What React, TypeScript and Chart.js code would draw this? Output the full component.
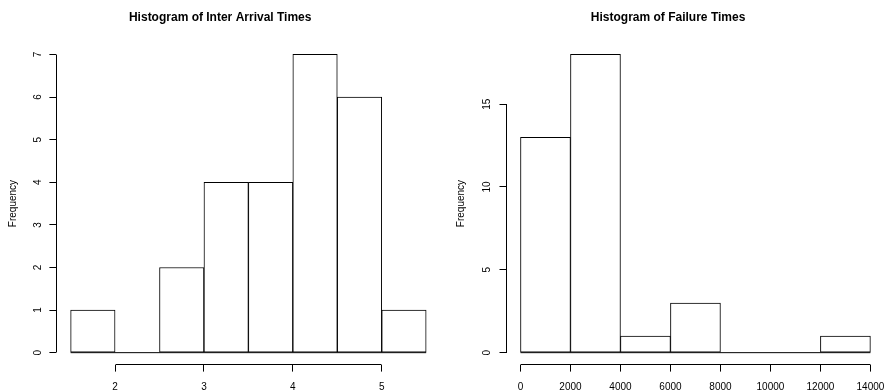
import React, { useEffect, useRef } from "react";
import { Chart, registerables } from "chart.js";

Chart.register(...registerables);

const FONT = "'Liberation Sans', Arial, Helvetica, sans-serif";

// Left histogram: Inter Arrival Times
const arrivalTitle = "Histogram of Inter Arrival Times";
const arrivalBinEdges = [1.5, 2, 2.5, 3, 3.5, 4, 4.5, 5, 5.5];
const arrivalCounts = [1, 0, 2, 4, 4, 7, 6, 1];
const arrivalXTicks = [2, 3, 4, 5];
const arrivalYTicks = [0, 1, 2, 3, 4, 5, 6, 7];

// Right histogram: Failure Times
const failureTitle = "Histogram of Failure Times";
const failureBinEdges = [0, 2000, 4000, 6000, 8000, 10000, 12000, 14000];
const failureCounts = [13, 18, 1, 3, 0, 0, 1];
const failureXTicks = [0, 2000, 4000, 6000, 8000, 10000, 12000, 14000];
const failureYTicks = [0, 5, 10, 15];

const yLabel = "Frequency";

const rAxisLines = {
  id: "rAxisLines",
  afterDraw(chart: any, _args: any, opts: any) {
    const { ctx, chartArea, scales } = chart;
    const xs = scales.x;
    const ys = scales.y;
    const al = (v: number) => Math.round(v - 0.5) + 0.5;
    ctx.save();
    ctx.strokeStyle = "#000";
    ctx.lineWidth = 1;
    ctx.beginPath();
    const xa = xs.getPixelForValue(xs.ticks[0].value);
    const xb = xs.getPixelForValue(xs.ticks[xs.ticks.length - 1].value);
    const yb = al(chartArea.bottom);
    ctx.moveTo(al(xa), yb);
    ctx.lineTo(al(xb), yb);
    const ya = ys.getPixelForValue(ys.ticks[0].value);
    const yc = ys.getPixelForValue(ys.ticks[ys.ticks.length - 1].value);
    const xl = al(chartArea.left);
    ctx.moveTo(xl, al(ya));
    ctx.lineTo(xl, al(yc));
    ctx.stroke();
    // R-style y tick labels, parallel to the axis (reading upwards)
    ctx.fillStyle = "#000";
    ctx.font = "10px " + FONT;
    ctx.textAlign = "center";
    ctx.textBaseline = "middle";
    const lx = chartArea.left - (opts && opts.labelOffset ? opts.labelOffset : 18);
    for (const t of ys.ticks) {
      const py = ys.getPixelForValue(t.value);
      ctx.save();
      ctx.translate(lx, py);
      ctx.rotate(-Math.PI / 2);
      ctx.fillText(String(t.value), 0, 0);
      ctx.restore();
    }
    ctx.restore();
  },
};

type PanelProps = {
  title: string;
  edges: number[];
  counts: number[];
  xTicks: number[];
  yTicks: number[];
  leftWidth: number;
  rightPad: number;
  yLabelOffset: number;
  yTitlePad: number;
};

function Histogram(p: PanelProps) {
  const ref = useRef<HTMLCanvasElement>(null);
  useEffect(() => {
    if (!ref.current) return;
    const lo = p.edges[0];
    const hi = p.edges[p.edges.length - 1];
    const xr = hi - lo;
    const ymax = Math.max(...p.counts);
    const bars = p.counts.map((c, i) => ({ x: (p.edges[i] + p.edges[i + 1]) / 2, y: c }));
    const chart = new Chart(ref.current, {
      type: "bar",
      data: {
        datasets: [
          {
            type: "bar",
            data: bars as any,
            backgroundColor: "#ffffff",
            borderColor: "#000000",
            borderWidth: 1,
            borderSkipped: false,
            barPercentage: 1,
            categoryPercentage: 1,
          } as any,
          {
            type: "line",
            data: [
              { x: lo, y: 0 },
              { x: hi, y: 0 },
            ] as any,
            borderColor: "#000000",
            borderWidth: 1,
            pointRadius: 0,
            fill: false,
          } as any,
        ],
      },
      options: {
        responsive: false,
        maintainAspectRatio: false,
        animation: false,
        events: [],
        layout: { padding: { left: 0, right: p.rightPad, top: 0, bottom: 0 } },
        plugins: {
          legend: { display: false },
          tooltip: { enabled: false },
          title: {
            display: true,
            text: p.title,
            color: "#000",
            font: { family: FONT, size: 12, weight: "bold" },
            padding: { top: 10.2, bottom: 17.9 },
          },
          rAxisLines: { labelOffset: p.yLabelOffset },
        },
        scales: {
          x: {
            type: "linear",
            offset: false,
            min: lo - 0.04 * xr,
            max: hi + 0.04 * xr,
            afterBuildTicks: (s: any) => {
              s.ticks = p.xTicks.map((v) => ({ value: v }));
            },
            afterFit: (s: any) => {
              s.height = 25.4;
            },
            border: { display: false },
            grid: {
              offset: false,
              drawOnChartArea: false,
              drawTicks: true,
              tickLength: 7,
              tickColor: "#000",
              color: "#000",
            },
            ticks: {
              autoSkip: false,
              maxRotation: 0,
              minRotation: 0,
              padding: 9.5,
              color: "#000",
              font: { family: FONT, size: 10 },
              callback: (v: any) => String(v),
            },
          },
          y: {
            type: "linear",
            min: -0.04 * ymax,
            max: 1.04 * ymax,
            afterBuildTicks: (s: any) => {
              s.ticks = p.yTicks.map((v) => ({ value: v }));
            },
            afterFit: (s: any) => {
              s.width = p.leftWidth;
            },
            border: { display: false },
            grid: {
              drawOnChartArea: false,
              drawTicks: true,
              tickLength: 7,
              tickColor: "#000",
              color: "#000",
            },
            ticks: {
              display: false,
            },
            title: {
              display: true,
              text: yLabel,
              color: "#000",
              font: { family: FONT, size: 10 },
              padding: { top: p.yTitlePad, bottom: 0 },
            },
          },
        },
      } as any,
      plugins: [rAxisLines],
    });
    return () => chart.destroy();
  }, []);
  return <canvas ref={ref} width={447} height={390} style={{ display: "block", width: 447, height: 390 }} />;
}

export default function App() {
  return (
    <div style={{ position: "fixed", left: 0, top: 0, width: 894, height: 390, background: "#fff", display: "flex" }}>
      <Histogram
        title={arrivalTitle}
        edges={arrivalBinEdges}
        counts={arrivalCounts}
        xTicks={arrivalXTicks}
        yTicks={arrivalYTicks}
        leftWidth={56.4}
        rightPad={6.6}
        yLabelOffset={17.7}
        yTitlePad={7}
      />
      <Histogram
        title={failureTitle}
        edges={failureBinEdges}
        counts={failureCounts}
        xTicks={failureXTicks}
        yTicks={failureYTicks}
        leftWidth={59.5}
        rightPad={4.8}
        yLabelOffset={19.5}
        yTitlePad={8.5}
      />
    </div>
  );
}
